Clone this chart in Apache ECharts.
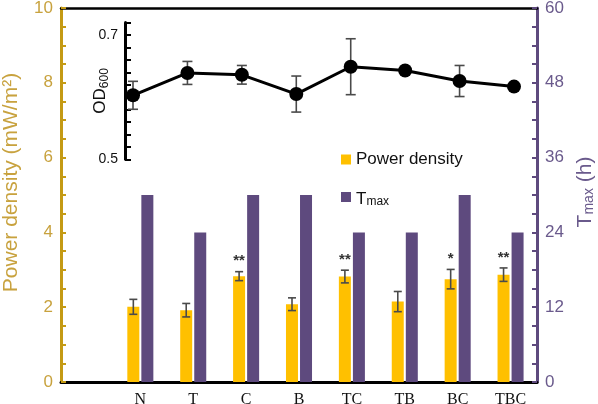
<!DOCTYPE html>
<html>
<head>
<meta charset="utf-8">
<script src="https://cdn.jsdelivr.net/npm/echarts@6/dist/echarts.min.js"></script>
<style>html,body{margin:0;padding:0;background:#fff;}#c{width:598px;height:404px;}</style>
</head>
<body>
<div id="c"></div>
<script>
const categories = ['N', 'T', 'C', 'B', 'TC', 'TB', 'BC', 'TBC'];
const powerDensity = [2.01, 1.92, 2.83, 2.08, 2.82, 2.15, 2.75, 2.87];
const powerErr = [0.2, 0.18, 0.12, 0.17, 0.17, 0.27, 0.26, 0.18];
const significance = ['', '', '**', '', '**', '', '*', '**'];
const tmax = [30, 24, 30, 30, 24, 24, 30, 24];
const od600 = [0.603, 0.639, 0.636, 0.605, 0.649, 0.643, 0.626, 0.617];
const odErr = [0.0225, 0.0185, 0.015, 0.029, 0.045, 0, 0.025, 0];
const leftTicks = [0, 2, 4, 6, 8, 10];
const rightTicks = [0, 12, 24, 36, 48, 60];
const odTicks = [0.5, 0.7];

const GOLD = '#C49A14';
const GOLD_TXT = '#C8A23E';
const PURPLE = '#5E4A7E';
const PURPLE_TXT = '#6A5A8C';
const YELLOW = '#FFC000';

const xCats = [''].concat(categories);
const chart = echarts.init(document.getElementById('c'));

const barErrData = categories.map((c, i) => [i + 1, powerDensity[i], powerErr[i]]);
const odErrData = categories.map((c, i) => [i, od600[i], odErr[i]]);

function near(v, list) { return list.some(t => Math.abs(t - v) < 1e-6); }

chart.setOption({
  animation: false,
  grid: [
    { left: 61, right: 61, top: 8, bottom: 22, containLabel: false, outerBoundsMode: 'none' },
    { left: 133, right: 84, top: 22.6, bottom: 244.7, containLabel: false, outerBoundsMode: 'none' }
  ],
  legend: [
    {
      data: ['Power density'], left: 336, top: 146, itemWidth: 10, itemHeight: 10, icon: 'rect', itemGap: 4,
      textStyle: { fontFamily: 'Liberation Sans', fontSize: 17, color: '#111' }
    },
    {
      data: ['Tmax'], left: 336, top: 186, itemWidth: 10, itemHeight: 10, icon: 'rect',
      formatter: () => '{t|T}{s|max}',
      textStyle: {
        fontFamily: 'Liberation Sans', color: '#111',
        rich: {
          t: { fontFamily: 'Liberation Sans', fontSize: 17, color: '#111', verticalAlign: 'bottom', lineHeight: 22 },
          s: { fontFamily: 'Liberation Sans', fontSize: 12, color: '#111', verticalAlign: 'bottom', lineHeight: 12 }
        }
      }
    }
  ],
  xAxis: [
    {
      type: 'category', gridIndex: 0, data: xCats, position: 'bottom',
      axisLine: { show: true, onZero: false, lineStyle: { color: '#000', width: 3 } },
      axisTick: { show: false },
      axisLabel: { fontFamily: 'Liberation Serif', fontSize: 16, color: '#111', margin: 10 }
    },
    {
      type: 'category', gridIndex: 0, data: xCats, position: 'top',
      axisLine: { show: true, onZero: false, lineStyle: { color: '#000', width: 2.5 } },
      axisTick: { show: false }, axisLabel: { show: false }
    },
    {
      type: 'category', gridIndex: 1, data: categories, boundaryGap: false, show: false
    }
  ],
  yAxis: [
    {
      type: 'value', gridIndex: 0, min: 0, max: 10, interval: 0.5, position: 'left',
      name: 'Power density (mW/m²)', nameLocation: 'middle', nameGap: 38, nameRotate: 90, nameMoveOverlap: false,
      nameTextStyle: { fontFamily: 'Liberation Sans', fontSize: 21, lineHeight: 24, color: GOLD_TXT, padding: [0, 0, 0, 25] },
      axisLine: { show: true, lineStyle: { color: GOLD, width: 3 } },
      axisTick: { show: true, inside: true, length: 5, lineStyle: { color: GOLD, width: 2 } },
      axisLabel: {
        fontFamily: 'Liberation Sans', fontSize: 17, color: GOLD_TXT, margin: 8,
        formatter: v => near(v, leftTicks) ? String(v) : ''
      },
      splitLine: { show: false }
    },
    {
      type: 'value', gridIndex: 0, min: 0, max: 60, interval: 3, position: 'right',
      name: '{t|T}{s|max}{t| (h)}', nameLocation: 'middle', nameGap: 35, nameRotate: 90, nameMoveOverlap: false,
      nameTextStyle: {
        padding: [0, 0, 0, 6],
        rich: {
          t: { fontFamily: 'Liberation Sans', fontSize: 21, color: PURPLE_TXT, verticalAlign: 'bottom', lineHeight: 24 },
          s: { fontFamily: 'Liberation Sans', fontSize: 14, color: PURPLE_TXT, verticalAlign: 'bottom', lineHeight: 14 }
        }
      },
      axisLine: { show: true, lineStyle: { color: PURPLE, width: 3 } },
      axisTick: { show: true, inside: true, length: 5, lineStyle: { color: PURPLE, width: 2 } },
      axisLabel: {
        fontFamily: 'Liberation Sans', fontSize: 17, color: PURPLE_TXT, margin: 8,
        formatter: v => near(v, rightTicks) ? String(v) : ''
      },
      splitLine: { show: false }
    },
    {
      type: 'value', gridIndex: 1, min: 0.5, max: 0.72, interval: 0.02, position: 'left', offset: 8,
      name: 'OD{s|600}', nameLocation: 'middle', nameGap: 14, nameRotate: 90, nameMoveOverlap: false,
      nameTextStyle: {
        fontFamily: 'Liberation Sans', fontSize: 17, color: '#111', verticalAlign: 'bottom', lineHeight: 22,
        rich: { s: { fontFamily: 'Liberation Sans', fontSize: 12, color: '#111', verticalAlign: 'bottom', lineHeight: 12 } }
      },
      axisLine: { show: true, lineStyle: { color: '#000', width: 3 } },
      axisTick: { show: true, inside: true, length: 6, lineStyle: { color: '#000', width: 2 } },
      axisLabel: {
        fontFamily: 'Liberation Sans', fontSize: 14, color: '#111', margin: 7,
        formatter: v => near(v, odTicks) ? String(Math.round(v * 10) / 10) : ''
      },
      splitLine: { show: false }
    }
  ],
  series: [
    {
      name: 'Power density', type: 'bar', xAxisIndex: 0, yAxisIndex: 0,
      data: ['-'].concat(powerDensity), barWidth: 12, barGap: '17%',
      itemStyle: { color: YELLOW }
    },
    {
      name: 'Tmax', type: 'bar', xAxisIndex: 0, yAxisIndex: 1,
      data: ['-'].concat(tmax), barWidth: 12, barGap: '17%',
      itemStyle: { color: PURPLE }
    },
    {
      name: 'pdErr', type: 'custom', xAxisIndex: 0, yAxisIndex: 0, z: 10,
      data: barErrData, encode: { x: 0, y: 1 },
      renderItem: function (params, api) {
        const xi = api.value(0), v = api.value(1), e = api.value(2);
        const x = api.coord([xi, v])[0] - 7;
        const yt = api.coord([xi, v + e])[1];
        const yb = api.coord([xi, v - e])[1];
        const st = { stroke: '#4a4a4a', lineWidth: 1.6 };
        const ch = [
          { type: 'line', shape: { x1: x, y1: yt, x2: x, y2: yb }, style: st },
          { type: 'line', shape: { x1: x - 4, y1: yt, x2: x + 4, y2: yt }, style: st },
          { type: 'line', shape: { x1: x - 4, y1: yb, x2: x + 4, y2: yb }, style: st }
        ];
        const s = significance[params.dataIndex];
        if (s) {
          ch.push({ type: 'text', style: { text: s, x: x, y: yt - 3, textAlign: 'center', textVerticalAlign: 'bottom', font: 'bold 15px "Liberation Sans"', fill: '#333' } });
        }
        return { type: 'group', children: ch };
      }
    },
    {
      name: 'OD600', type: 'line', xAxisIndex: 2, yAxisIndex: 2, z: 5,
      data: od600, symbol: 'circle', symbolSize: 14,
      lineStyle: { color: '#000', width: 3 }, itemStyle: { color: '#000' }
    },
    {
      name: 'odErr', type: 'custom', xAxisIndex: 2, yAxisIndex: 2, z: 4,
      data: odErrData, encode: { x: 0, y: 1 },
      renderItem: function (params, api) {
        const xi = api.value(0), v = api.value(1), e = api.value(2);
        if (!e) return { type: 'group', children: [] };
        const x = api.coord([xi, v])[0];
        const yt = api.coord([xi, v + e])[1];
        const yb = api.coord([xi, v - e])[1];
        const st = { stroke: '#4a4a4a', lineWidth: 1.6 };
        return {
          type: 'group', children: [
            { type: 'line', shape: { x1: x, y1: yt, x2: x, y2: yb }, style: st },
            { type: 'line', shape: { x1: x - 5, y1: yt, x2: x + 5, y2: yt }, style: st },
            { type: 'line', shape: { x1: x - 5, y1: yb, x2: x + 5, y2: yb }, style: st }
          ]
        };
      }
    }
  ]
});
</script>
</body>
</html>
